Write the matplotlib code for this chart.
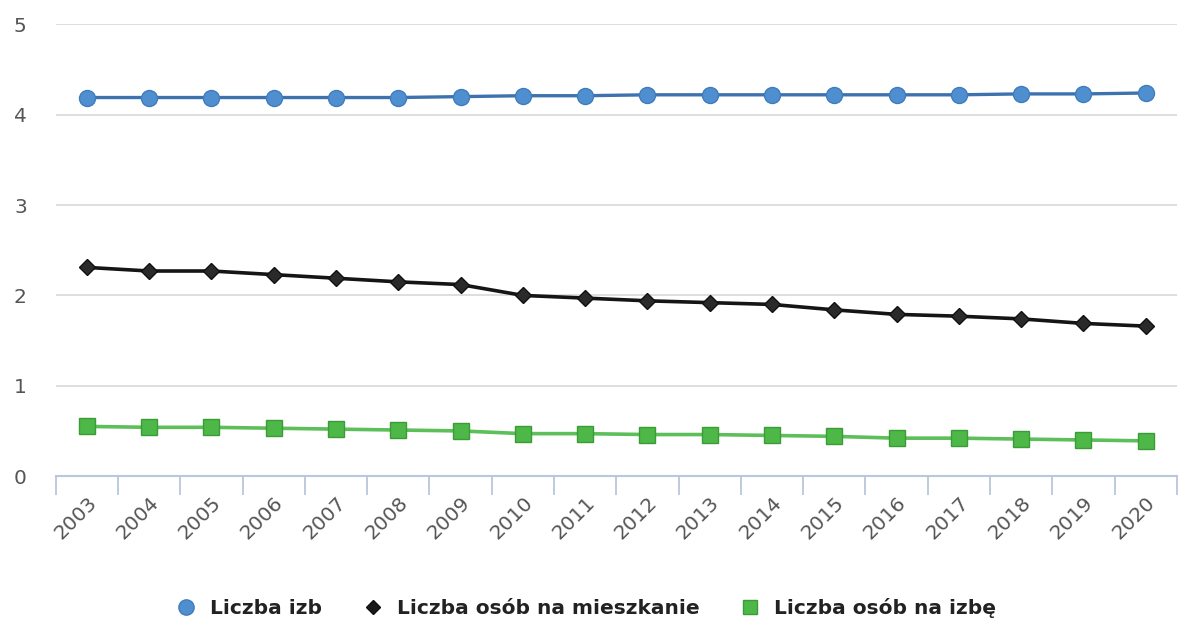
import numpy as np
import matplotlib
matplotlib.use("Agg")
import matplotlib.pyplot as plt
from matplotlib.lines import Line2D

lata = [str(r) for r in range(2003, 2021)]
liczba_izb = [4.19, 4.19, 4.19, 4.19, 4.19, 4.19, 4.20, 4.21, 4.21,
              4.22, 4.22, 4.22, 4.22, 4.22, 4.22, 4.23, 4.23, 4.24]
osob_na_mieszkanie = [2.31, 2.27, 2.27, 2.23, 2.19, 2.15, 2.12, 2.00, 1.97,
                      1.94, 1.92, 1.90, 1.84, 1.79, 1.77, 1.74, 1.69, 1.66]
osob_na_izbe = [0.55, 0.54, 0.54, 0.53, 0.52, 0.51, 0.50, 0.47, 0.47,
                0.46, 0.46, 0.45, 0.44, 0.42, 0.42, 0.41, 0.40, 0.39]
etykiety = ["Liczba izb", "Liczba osób na mieszkanie", "Liczba osób na izbę"]

fig = plt.figure(figsize=(11.84, 6.24), dpi=100)
ax = fig.add_axes([0.047, 0.237, 0.947, 0.724])

x = np.arange(len(lata))

# serie
ax.plot(x, liczba_izb, color="#3d72ae", lw=2.4, marker="o", ms=11.5,
        mfc="#4f8fd0", mec="#3f7cbd", mew=1, zorder=3)
ax.plot(x, osob_na_mieszkanie, color="#151515", lw=2.6, marker="D", ms=8,
        mfc="#2a2a2a", mec="#111111", mew=1, zorder=3)
ax.plot(x, osob_na_izbe, color="#5cbf59", lw=2.6, marker="s", ms=11,
        mfc="#4db848", mec="#3b9c37", mew=1, zorder=3)

ax.set_xlim(-0.5, len(lata) - 0.5)
ax.set_ylim(0, 5)

# siatka pozioma
ax.set_yticks([0, 1, 2, 3, 4, 5])
ax.yaxis.grid(True, color="#d8d8d8", lw=1.2)
ax.set_axisbelow(True)
ax.tick_params(axis="y", length=0, pad=30, labelsize=14.5, labelcolor="#555555")
for lab in ax.get_yticklabels():
    lab.set_horizontalalignment("left")

# oś x
for s in ["top", "right", "left"]:
    ax.spines[s].set_visible(False)
ax.spines["bottom"].set_color("#b9c7da")
ax.spines["bottom"].set_linewidth(1.5)

ax.set_xticks(x)
ax.set_xticklabels(lata, rotation=45, ha="right", rotation_mode="anchor",
                   fontsize=14.5, color="#555555")
ax.tick_params(axis="x", length=0, pad=12)
ax.set_xticks(np.arange(-0.5, len(lata)), minor=True)
ax.tick_params(axis="x", which="minor", length=14, width=1.3, color="#b9c7da")

# legenda
uchwyty = [
    Line2D([], [], ls="none", marker="o", ms=11, mfc="#4f8fd0", mec="#3f7cbd"),
    Line2D([], [], ls="none", marker="D", ms=7, mfc="#1a1a1a", mec="#111111"),
    Line2D([], [], ls="none", marker="s", ms=10, mfc="#4db848", mec="#3b9c37"),
]
fig.legend(uchwyty, etykiety, loc="lower center", ncol=3, frameon=False,
           bbox_to_anchor=(0.495, -0.02), handlelength=1.0, handletextpad=0.7,
           columnspacing=2.0, prop={"size": 14.5, "weight": "bold"},
           labelcolor="#222222")

fig.savefig("out.png", dpi=100)
